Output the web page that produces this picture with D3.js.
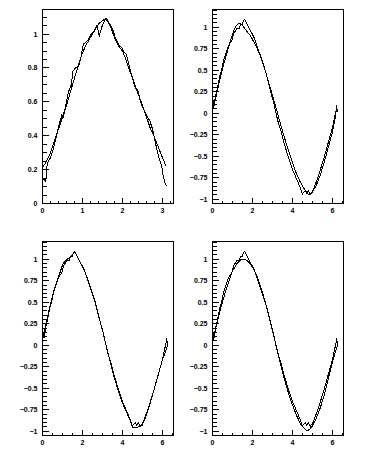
<!DOCTYPE html>
<html>
<head>
<meta charset="utf-8">
<script src="https://cdn.jsdelivr.net/npm/d3@7"></script>
<style>
  body { margin: 0; background: #ffffff; }
  svg { display: block; }
  .label { font-family: "Liberation Sans", Arial, sans-serif; font-size: 7px; font-weight: bold; fill: #000; }
</style>
</head>
<body>
<div class="container"></div>
<script>
// DATA
// top left pad: half period, noisy points and the smoothed curve
const halfX = [0.00, 0.01, 0.08, 0.12, 0.20, 0.28, 0.35, 0.42, 0.48, 0.52, 0.58, 0.65, 0.72, 0.76, 0.82, 0.90, 0.96, 1.02, 1.08, 1.15, 1.22, 1.30, 1.36, 1.42, 1.48, 1.55, 1.60, 1.68, 1.75, 1.82, 1.90, 1.98, 2.05, 2.10, 2.18, 2.25, 2.32, 2.38, 2.45, 2.52, 2.60, 2.68, 2.75, 2.82, 2.90, 2.98, 3.02, 3.06, 3.12];
const halfY = [0.03, 0.15, 0.13, 0.24, 0.27, 0.33, 0.40, 0.47, 0.52, 0.51, 0.58, 0.66, 0.70, 0.78, 0.80, 0.81, 0.86, 0.94, 0.95, 0.97, 1.00, 1.02, 1.05, 0.99, 1.04, 1.08, 1.09, 1.06, 1.03, 0.98, 0.94, 0.92, 0.89, 0.88, 0.80, 0.74, 0.68, 0.67, 0.60, 0.56, 0.52, 0.49, 0.44, 0.36, 0.28, 0.22, 0.16, 0.12, 0.10];

const halfSmoothX = [0.00, 0.10, 0.20, 0.30, 0.40, 0.50, 0.60, 0.70, 0.80, 0.90, 1.00, 1.10, 1.20, 1.30, 1.40, 1.50, 1.58, 1.65, 1.72, 1.80, 1.90, 2.00, 2.10, 2.20, 2.30, 2.40, 2.50, 2.60, 2.70, 2.80, 2.90, 3.00, 3.09];
const halfSmoothY = [0.21, 0.25, 0.30, 0.37, 0.44, 0.51, 0.58, 0.66, 0.74, 0.82, 0.89, 0.94, 0.98, 1.02, 1.06, 1.08, 1.09, 1.07, 1.03, 0.98, 0.93, 0.90, 0.84, 0.77, 0.71, 0.64, 0.58, 0.51, 0.44, 0.39, 0.33, 0.27, 0.22];

// the other three pads: full period, same noisy points, three different smoothings
const fullX = [0.00, 0.03, 0.08, 0.15, 0.25, 0.35, 0.45, 0.55, 0.65, 0.75, 0.85, 0.95, 1.05, 1.15, 1.25, 1.32, 1.40, 1.48, 1.55, 1.62, 1.70, 1.80, 1.90, 2.00, 2.10, 2.25, 2.40, 2.55, 2.70, 2.85, 3.00, 3.10, 3.20, 3.30, 3.45, 3.60, 3.75, 3.90, 4.00, 4.10, 4.20, 4.30, 4.40, 4.50, 4.58, 4.65, 4.72, 4.80, 4.90, 5.00, 5.10, 5.25, 5.40, 5.55, 5.70, 5.85, 6.00, 6.12, 6.22, 6.28];
const fullY = [0.02, 0.15, 0.08, 0.20, 0.29, 0.42, 0.50, 0.61, 0.68, 0.75, 0.81, 0.83, 0.92, 0.96, 0.99, 0.98, 1.03, 1.03, 1.08, 1.09, 1.05, 1.00, 0.96, 0.92, 0.87, 0.77, 0.67, 0.56, 0.45, 0.31, 0.18, 0.09, -0.02, -0.11, -0.22, -0.36, -0.47, -0.58, -0.65, -0.70, -0.76, -0.81, -0.87, -0.94, -0.92, -0.90, -0.93, -0.90, -0.94, -0.91, -0.86, -0.77, -0.66, -0.55, -0.43, -0.30, -0.18, -0.05, 0.06, 0.02];

const smoothAX = [0.00, 0.10, 0.20, 0.30, 0.40, 0.50, 0.60, 0.70, 0.80, 0.90, 1.00, 1.10, 1.20, 1.30, 1.40, 1.50, 1.60, 1.70, 1.80, 1.90, 2.00, 2.20, 2.40, 2.60, 2.80, 3.00, 3.20, 3.40, 3.60, 3.80, 4.00, 4.20, 4.40, 4.60, 4.80, 4.90, 5.00, 5.20, 5.40, 5.60, 5.80, 6.00, 6.15, 6.24];
const smoothAY = [0.02, 0.12, 0.22, 0.32, 0.42, 0.52, 0.60, 0.68, 0.76, 0.84, 0.92, 0.98, 1.02, 1.04, 1.04, 1.02, 0.99, 0.96, 0.93, 0.90, 0.86, 0.77, 0.67, 0.53, 0.37, 0.21, 0.05, -0.12, -0.28, -0.43, -0.57, -0.70, -0.80, -0.88, -0.94, -0.95, -0.92, -0.84, -0.72, -0.57, -0.40, -0.23, -0.05, 0.10];

const smoothBX = [0.00, 0.10, 0.20, 0.30, 0.40, 0.50, 0.60, 0.70, 0.80, 0.90, 1.00, 1.10, 1.20, 1.30, 1.40, 1.50, 1.60, 1.70, 1.80, 1.90, 2.00, 2.20, 2.40, 2.60, 2.80, 3.00, 3.20, 3.40, 3.60, 3.80, 4.00, 4.20, 4.40, 4.50, 4.60, 4.70, 4.80, 5.00, 5.20, 5.40, 5.60, 5.80, 6.00, 6.15, 6.28];
const smoothBY = [0.10, 0.17, 0.27, 0.38, 0.48, 0.57, 0.66, 0.73, 0.80, 0.86, 0.93, 0.97, 0.99, 1.01, 1.02, 1.05, 1.09, 1.05, 1.00, 0.96, 0.92, 0.81, 0.68, 0.54, 0.35, 0.18, -0.01, -0.20, -0.38, -0.53, -0.67, -0.77, -0.88, -0.95, -0.96, -0.96, -0.95, -0.93, -0.82, -0.67, -0.51, -0.34, -0.18, -0.08, 0.01];

const smoothCX = [0.00, 0.10, 0.20, 0.30, 0.40, 0.50, 0.60, 0.70, 0.80, 0.90, 1.00, 1.10, 1.20, 1.30, 1.40, 1.50, 1.60, 1.70, 1.80, 1.90, 2.00, 2.20, 2.40, 2.60, 2.80, 3.00, 3.20, 3.40, 3.60, 3.80, 4.00, 4.20, 4.40, 4.60, 4.70, 4.80, 4.90, 5.00, 5.20, 5.40, 5.60, 5.80, 6.00, 6.15, 6.28];
const smoothCY = [0.04, 0.14, 0.24, 0.33, 0.42, 0.50, 0.58, 0.66, 0.73, 0.80, 0.86, 0.90, 0.94, 0.97, 0.99, 1.00, 1.00, 0.99, 0.97, 0.94, 0.91, 0.82, 0.69, 0.54, 0.37, 0.18, -0.02, -0.21, -0.39, -0.55, -0.69, -0.81, -0.91, -0.97, -0.99, -0.99, -0.97, -0.94, -0.85, -0.73, -0.58, -0.40, -0.21, -0.08, 0.01];

// TICKS
const halfXTicks = [0, 1, 2, 3];
const halfXLabels = ["0", "1", "2", "3"];
const halfYTicks = [0, 0.2, 0.4, 0.6, 0.8, 1];
const halfYLabels = ["0", "0.2", "0.4", "0.6", "0.8", "1"];

const fullXTicks = [0, 2, 4, 6];
const fullXLabels = ["0", "2", "4", "6"];
const fullYTicks = [-1, -0.75, -0.5, -0.25, 0, 0.25, 0.5, 0.75, 1];
const fullYLabels = ["\u22121", "\u22120.75", "\u22120.5", "\u22120.25", "0", "0.25", "0.5", "0.75", "1"];

// SETUP
const container = d3.select(".container");
const svg = container
    .append("svg")
    .attr("width", 387)
    .attr("height", 465);

// frame position inside each pad; the pads are laid out in a 2x2 grid
const frame = { left: 42, right: 173, top: 9, bottom: 203 };
const padStep = { x: 170, y: 232 };

const zip = (xs, ys) => xs.map((x, i) => [x, ys[i]]);

// minor ticks: every step inside the domain
function minorTicks(domain, step) {
    const out = [];
    const start = Math.ceil(domain[0] / step - 1e-6);
    const stop = Math.floor(domain[1] / step + 1e-6);
    for (let k = start; k <= stop; k++) out.push(+(k * step).toFixed(4));
    return out;
}

function drawPad(col, row, opts) {
    const g = svg.append("g")
        .attr("transform", `translate(${col * padStep.x + 0.5}, ${row * padStep.y + 0.5})`);

    const x = d3.scaleLinear().domain(opts.xDomain).range([frame.left, frame.right]);
    const y = d3.scaleLinear().domain(opts.yDomain).range([frame.bottom, frame.top]);

    // y ticks, drawn inwards from the left edge of the frame
    g.selectAll(".yminor")
        .data(minorTicks(opts.yDomain, opts.yMinor))
        .enter().append("line")
        .attr("x1", frame.left).attr("x2", frame.left + 4)
        .attr("y1", d => Math.round(y(d))).attr("y2", d => Math.round(y(d)))
        .attr("stroke", "#000").attr("shape-rendering", "crispEdges");
    g.selectAll(".ymajor")
        .data(opts.yTicks)
        .enter().append("line")
        .attr("x1", frame.left).attr("x2", frame.left + 6)
        .attr("y1", d => Math.round(y(d))).attr("y2", d => Math.round(y(d)))
        .attr("stroke", "#000").attr("shape-rendering", "crispEdges");
    g.selectAll(".ylabel")
        .data(opts.yTicks)
        .enter().append("text")
        .attr("class", "label")
        .attr("x", frame.left - 5)
        .attr("y", d => Math.round(y(d)) + 2.5)
        .attr("text-anchor", "end")
        .text((d, i) => opts.yLabels[i]);

    // x ticks, drawn upwards from the bottom of the frame
    g.selectAll(".xminor")
        .data(minorTicks(opts.xDomain, opts.xMinor))
        .enter().append("line")
        .attr("x1", d => Math.round(x(d))).attr("x2", d => Math.round(x(d)))
        .attr("y1", frame.bottom).attr("y2", frame.bottom - 3)
        .attr("stroke", "#000").attr("shape-rendering", "crispEdges");
    g.selectAll(".xmajor")
        .data(opts.xTicks)
        .enter().append("line")
        .attr("x1", d => Math.round(x(d))).attr("x2", d => Math.round(x(d)))
        .attr("y1", frame.bottom).attr("y2", frame.bottom - 6)
        .attr("stroke", "#000").attr("shape-rendering", "crispEdges");
    g.selectAll(".xlabel")
        .data(opts.xTicks)
        .enter().append("text")
        .attr("class", "label")
        .attr("x", d => Math.round(x(d)))
        .attr("y", frame.bottom + 9)
        .attr("text-anchor", "middle")
        .text((d, i) => opts.xLabels[i]);

    // curves
    const line = d3.line().x(d => x(d[0])).y(d => y(d[1]));
    opts.curves.forEach(c => {
        g.append("path")
            .attr("d", line(c))
            .attr("fill", "none")
            .attr("stroke", "#000")
            .attr("stroke-width", 1)
            .attr("shape-rendering", "crispEdges");
    });

    // frame
    g.append("rect")
        .attr("x", frame.left).attr("y", frame.top)
        .attr("width", frame.right - frame.left)
        .attr("height", frame.bottom - frame.top)
        .attr("fill", "none").attr("stroke", "#000")
        .attr("shape-rendering", "crispEdges");
}

const fullOpts = {
    xDomain: [0, 6.566], yDomain: [-1.05, 1.206],
    xTicks: fullXTicks, xLabels: fullXLabels, xMinor: 0.5,
    yTicks: fullYTicks, yLabels: fullYLabels, yMinor: 0.05
};

drawPad(0, 0, {
    xDomain: [0, 3.275], yDomain: [0, 1.145],
    xTicks: halfXTicks, xLabels: halfXLabels, xMinor: 0.2,
    yTicks: halfYTicks, yLabels: halfYLabels, yMinor: 0.05,
    curves: [zip(halfX, halfY), zip(halfSmoothX, halfSmoothY)]
});
drawPad(1, 0, Object.assign({}, fullOpts, { curves: [zip(fullX, fullY), zip(smoothAX, smoothAY)] }));
drawPad(0, 1, Object.assign({}, fullOpts, { curves: [zip(fullX, fullY), zip(smoothBX, smoothBY)] }));
drawPad(1, 1, Object.assign({}, fullOpts, { curves: [zip(fullX, fullY), zip(smoothCX, smoothCY)] }));
</script>
</body>
</html>
